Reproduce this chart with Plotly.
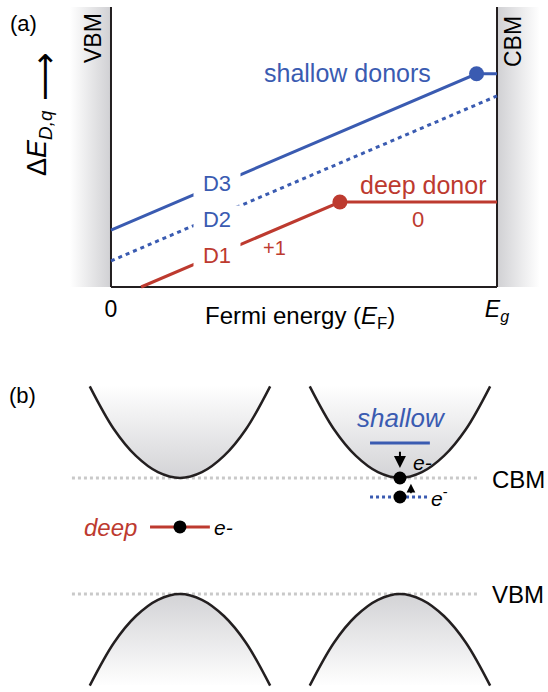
import plotly.graph_objects as go

W, H = 548, 692

# ---------------- panel (a): formation energy vs Fermi level ----------------
ef_d3 = [0.0, 0.947, 1.0]
de_d3 = [0.345, 1.292, 1.292]
ef_d2 = [0.0, 1.0]
de_d2 = [0.158, 1.158]
ef_d1 = [0.078, 0.593, 1.0]
de_d1 = [0.0, 0.515, 0.515]
trans_ef = [0.947, 0.593]
trans_de = [1.292, 0.515]
trans_colors = ["#3a5bb1", "#bd3a2f"]
x_tickvals = [0, 1]
x_ticktext = ["0", "<i>E</i><sub><i>g</i></sub>"]
line_labels = ["D3", "D2", "D1"]
label_ef = [0.2746, 0.2746, 0.2746]
label_de = [0.633, 0.415, 0.194]

# ---------------- panel (b): band diagram ----------------
k_band = [-0.41, -0.3, -0.2, -0.1, 0.0, 0.1, 0.2, 0.3, 0.41]
e_disp = [0.79, 0.42, 0.19, 0.05, 0.0, 0.05, 0.19, 0.42, 0.79]
band_centres = [0.0, 1.0]
cbm = 1.0
vbm = 0.0
deep_level = 0.578
shallow_level = 1.302
shallow_bound = 0.836

BLUE = "#3a5bb1"
RED = "#bd3a2f"
AX = "#231f20"
FONT = "Liberation Sans, Arial, sans-serif"

fig = go.Figure()

# gray band-edge regions in (a)
ytop = 1.697
fig.add_trace(go.Scatter(x=[-0.106, 0, 0, -0.106], y=[0, 0, ytop, ytop], fill="toself",
                         mode="none", fillgradient=dict(type="horizontal", start=-0.106, stop=0,
                         colorscale=[[0, "#ffffff"], [1, "#d0d0d3"]]), hoverinfo="skip",
                         showlegend=False))
fig.add_trace(go.Scatter(x=[1, 1.111, 1.111, 1], y=[0, 0, ytop, ytop], fill="toself",
                         mode="none", fillgradient=dict(type="horizontal", start=1, stop=1.111,
                         colorscale=[[0, "#d0d0d3"], [1, "#ffffff"]]), hoverinfo="skip",
                         showlegend=False))
# frame lines
for xs, ys in [([0, 0], [0, ytop]), ([1, 1], [0, ytop]), ([0, 1], [0, 0])]:
    fig.add_trace(go.Scatter(x=xs, y=ys, mode="lines", line=dict(color=AX, width=2),
                             hoverinfo="skip", showlegend=False))

fig.add_trace(go.Scatter(x=ef_d2, y=de_d2, mode="lines",
                         line=dict(color=BLUE, width=3, dash="4px,4px"), showlegend=False))
fig.add_trace(go.Scatter(x=ef_d3, y=de_d3, mode="lines",
                         line=dict(color=BLUE, width=3), showlegend=False))
fig.add_trace(go.Scatter(x=ef_d1, y=de_d1, mode="lines",
                         line=dict(color=RED, width=3), showlegend=False))
fig.add_trace(go.Scatter(x=trans_ef, y=trans_de, mode="markers",
                         marker=dict(color=trans_colors, size=15), showlegend=False))

# ---------------- panel (b) traces ----------------
for xs_val in [cbm, vbm]:
    fig.add_trace(go.Scatter(x=[-0.491, 1.355], y=[xs_val, xs_val], mode="lines",
                             line=dict(color="#c9c9c9", width=3, dash="3px,3px"),
                             xaxis="x2", yaxis="y2", showlegend=False))

for c in band_centres:
    kx = [c + k for k in k_band]
    ecb = [cbm + e for e in e_disp]
    evb = [vbm - e for e in e_disp]
    fig.add_trace(go.Scatter(x=kx, y=ecb, fill="toself", mode="none",
                             fillgradient=dict(type="vertical", start=cbm, stop=cbm + 0.8,
                                               colorscale=[[0, "#d3d3d6"], [1, "#ffffff"]]),
                             xaxis="x2", yaxis="y2", showlegend=False))
    fig.add_trace(go.Scatter(x=kx, y=evb, fill="toself", mode="none",
                             fillgradient=dict(type="vertical", start=vbm - 0.8, stop=vbm,
                                               colorscale=[[0, "#ffffff"], [1, "#d3d3d6"]]),
                             xaxis="x2", yaxis="y2", showlegend=False))
    for ys in (ecb, evb):
        fig.add_trace(go.Scatter(x=kx, y=ys, mode="lines", line=dict(color=AX, width=2.5, shape="spline"),
                                 xaxis="x2", yaxis="y2", showlegend=False))

fig.add_trace(go.Scatter(x=[-0.136, 0.136], y=[deep_level] * 2, mode="lines",
                         line=dict(color=RED, width=3), xaxis="x2", yaxis="y2", showlegend=False))
fig.add_trace(go.Scatter(x=[0.864, 1.136], y=[shallow_level] * 2, mode="lines",
                         line=dict(color=BLUE, width=3), xaxis="x2", yaxis="y2", showlegend=False))
fig.add_trace(go.Scatter(x=[0.864, 1.136], y=[shallow_bound] * 2, mode="lines",
                         line=dict(color=BLUE, width=3, dash="3px,3px"), xaxis="x2", yaxis="y2",
                         showlegend=False))
fig.add_trace(go.Scatter(x=[0.0, 1.0, 1.0], y=[deep_level, cbm, shallow_bound], mode="markers",
                         marker=dict(color="black", size=13), xaxis="x2", yaxis="y2",
                         showlegend=False))


def P(x, y):
    return dict(x=x / W, y=1 - y / H, xref="paper", yref="paper")


ann = []


def txt(x, y, t, size=22, color="black", angle=0, family=FONT, **kw):
    d = P(x, y)
    d.update(text=t, showarrow=False, textangle=angle, xanchor="center", yanchor="middle",
             font=dict(family=family, size=size, color=color))
    d.update(kw)
    ann.append(d)


txt(23, 23, "(a)", 22)
txt(22, 395, "(b)", 22)
txt(93, 38, "VBM", 23, angle=-90)
txt(513, 42, "CBM", 23, angle=-90)
txt(347, 73, "shallow donors", 25, BLUE)
txt(423, 185, "deep donor", 25, RED)
txt(418, 219, "0", 22, RED)
txt(274, 248, "+1", 20, RED)
txt(300, 317, "Fermi energy (<i>E</i><sub>F</sub>)", 24)
txt(39, 143, "Δ<i>E</i><sub><i>D,q</i></sub>", 27, angle=-90)
txt(44, 77, "⟶", 34, angle=-90, family="DejaVu Sans")

for lab, xe, ye in zip(line_labels, label_ef, label_de):
    ann.append(dict(x=xe, y=ye, xref="x", yref="y", text=lab, showarrow=False,
                    font=dict(family=FONT, size=22, color=RED if lab == "D1" else BLUE),
                    bgcolor="white", width=44, height=24))

txt(110, 527, "<i>deep</i>", 24, RED)
txt(223, 527, "<i>e-</i>", 21)
txt(401, 418, "<i>shallow</i>", 26, BLUE)
txt(422, 462, "<i>e-</i>", 21)
txt(439, 497, "<i>e</i><sup>-</sup>", 21)
txt(518, 479, "CBM", 24)
txt(518, 594, "VBM", 24)

# arrows in panel (b)
ann.append(dict(x=1.0, y=1.086, ax=1.0, ay=1.24, xref="x2", yref="y2", axref="x2", ayref="y2",
                text="", showarrow=True, arrowhead=2, arrowsize=1.2, arrowwidth=2, arrowcolor="black"))
ann.append(dict(x=1.05, y=0.95, ax=1.05, ay=0.855, xref="x2", yref="y2", axref="x2", ayref="y2",
                text="", showarrow=True, arrowhead=2, arrowsize=1.1, arrowwidth=1.6, arrowcolor="black"))

fig.update_layout(
    width=W, height=H, margin=dict(l=0, r=0, t=0, b=0),
    paper_bgcolor="white", plot_bgcolor="rgba(0,0,0,0)",
    font=dict(family=FONT, color="black"),
    xaxis=dict(domain=[60 / W, 1], range=[-0.1321, 1.1321], showgrid=False, zeroline=False,
               showline=False, tickvals=x_tickvals, ticktext=x_ticktext, ticks="",
               tickfont=dict(size=23, family=FONT), ticklabelstandoff=1, fixedrange=True),
    yaxis=dict(domain=[1 - 292 / H, 1 - 7 / H], range=[-0.0303, 1.697], visible=False),
    xaxis2=dict(domain=[0, 1], range=[-0.818, 1.673], visible=False, anchor="y2"),
    yaxis2=dict(domain=[0, 1 - 370 / H], range=[-0.845, 1.931], visible=False, anchor="x2"),
    annotations=ann,
)

fig.write_html("out.html")
